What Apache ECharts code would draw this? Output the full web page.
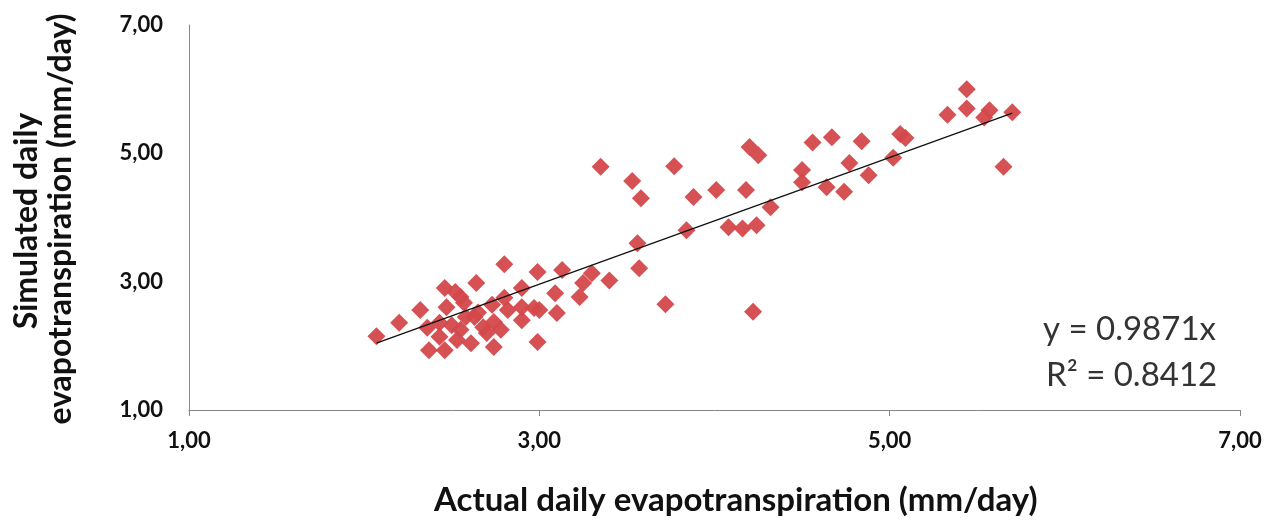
<!DOCTYPE html>
<html>
<head>
<meta charset="utf-8">
<title>Actual vs simulated evapotranspiration</title>
<script src="https://cdn.jsdelivr.net/npm/echarts@6/dist/echarts.min.js"></script>
<style>
  html, body { margin: 0; padding: 0; background: #fff; }
  #chart { width: 1270px; height: 526px; }
</style>
</head>
<body>
<div id="chart"></div>
<script>
// actual daily ET (mm/day)
var actual = [
  2.07, 2.20, 2.32, 2.46, 2.55, 2.47, 2.36, 2.43, 2.37, 2.46,
  2.55, 2.58, 2.64, 2.57, 2.73, 2.82, 2.90, 2.97, 2.63, 2.74,
  2.90, 2.70, 2.78, 2.53, 2.61, 2.74, 2.99, 2.80, 2.99, 3.13,
  2.90, 3.09, 3.00, 3.30, 3.40, 3.25, 3.23, 3.10, 2.52, 2.43,
  2.68, 2.80, 2.50, 2.65,
  3.56, 3.57, 3.72, 4.22, 3.35, 3.77, 3.53, 3.58, 3.88, 4.01,
  4.18, 3.84, 4.08, 4.16, 4.24, 4.32, 4.20, 4.25, 4.56, 4.67,
  4.50, 4.50, 4.64, 4.74, 4.84, 5.02, 4.77, 4.88, 5.06, 5.09,
  5.33, 5.44, 5.44, 5.57, 5.54, 5.70, 5.65
];
// simulated daily ET (mm/day)
var simulated = [
  2.15, 2.36, 2.56, 2.90, 2.76, 2.60, 2.28, 2.14, 1.93, 1.93,
  2.25, 2.45, 2.98, 2.67, 2.64, 2.56, 2.60, 2.59, 2.45, 2.37,
  2.40, 2.20, 2.25, 2.09, 2.04, 1.98, 2.06, 3.27, 3.15, 3.18,
  2.90, 2.82, 2.56, 3.13, 3.02, 2.98, 2.76, 2.51, 2.84, 2.36,
  2.29, 2.75, 2.32, 2.52,
  3.60, 3.21, 2.65, 2.53, 4.79, 4.80, 4.57, 4.30, 4.32, 4.43,
  4.43, 3.80, 3.85, 3.83, 3.88, 4.16, 5.10, 4.97, 5.17, 5.25,
  4.74, 4.55, 4.47, 4.40, 5.19, 4.93, 4.85, 4.66, 5.30, 5.24,
  5.60, 6.00, 5.70, 5.67, 5.56, 5.64, 4.79
];
var slope = 0.9871;
var r2 = 0.8412;
var tickValues = [1, 3, 5, 7];

var points = actual.map(function (x, i) { return [x, simulated[i]]; });
var xMin = Math.min.apply(null, actual);
var xMax = Math.max.apply(null, actual);
var trend = [[xMin, slope * xMin], [xMax, slope * xMax]];

function fmt(v) { return v.toFixed(2).replace('.', ','); }

var FONT = 'Lato, "Open Sans", sans-serif';
var chart = echarts.init(document.getElementById('chart'));
var option = {
  backgroundColor: '#ffffff',
  animation: false,
  grid: { left: 189, top: 25, right: 30, bottom: 116 },
  xAxis: {
    type: 'value', min: 1, max: 7, interval: 2,
    axisLine: { lineStyle: { color: '#868686', width: 1 } },
    axisTick: { show: true, length: 6, lineStyle: { color: '#868686' } },
    splitLine: { show: false },
    axisLabel: {
      margin: 20, color: '#111', fontSize: 22, fontWeight: 'bold', fontFamily: FONT,
      formatter: function (v) { return tickValues.indexOf(v) >= 0 ? fmt(v) : ''; }
    }
  },
  yAxis: {
    type: 'value', min: 1, max: 7, interval: 2,
    axisLine: { show: true, lineStyle: { color: '#868686', width: 1 } },
    axisTick: { show: false },
    splitLine: { show: false },
    axisLabel: {
      margin: 26, color: '#111', fontSize: 22, fontWeight: 'bold', fontFamily: FONT,
      formatter: function (v) { return tickValues.indexOf(v) >= 0 ? fmt(v) : ''; }
    }
  },
  series: [
    {
      type: 'scatter',
      data: points,
      symbol: 'diamond',
      symbolSize: 18,
      itemStyle: { color: '#d4484b', opacity: 0.95 },
      z: 2
    },
    {
      type: 'line',
      data: trend,
      symbol: 'none',
      lineStyle: { color: '#111', width: 1.3 },
      z: 3
    }
  ],
  graphic: [
    {
      type: 'text', left: 434, top: 484,
      style: { text: 'Actual daily evapotranspiration (mm/day)', fill: '#111',
        font: 'bold 33px ' + FONT }
    },
    {
      type: 'text', x: 27, y: 221, rotation: Math.PI / 2,
      style: { text: 'Simulated daily', fill: '#111', align: 'center',
        verticalAlign: 'middle', font: 'bold 32px ' + FONT }
    },
    {
      type: 'text', x: 61, y: 219, rotation: Math.PI / 2,
      style: { text: 'evapotranspiration (mm/day)', fill: '#111', align: 'center',
        verticalAlign: 'middle', font: 'bold 32px ' + FONT }
    },
    {
      type: 'text', left: 1043, top: 313,
      style: { text: 'y = ' + slope.toFixed(4) + 'x', fill: '#333',
        font: '33px ' + FONT }
    },
    {
      type: 'text', left: 1046, top: 359,
      style: { text: 'R\u00b2 = ' + r2.toFixed(4), fill: '#333',
        font: '33px ' + FONT }
    }
  ]
};
chart.setOption(option);
window.onresize = chart.resize;
</script>
</body>
</html>
